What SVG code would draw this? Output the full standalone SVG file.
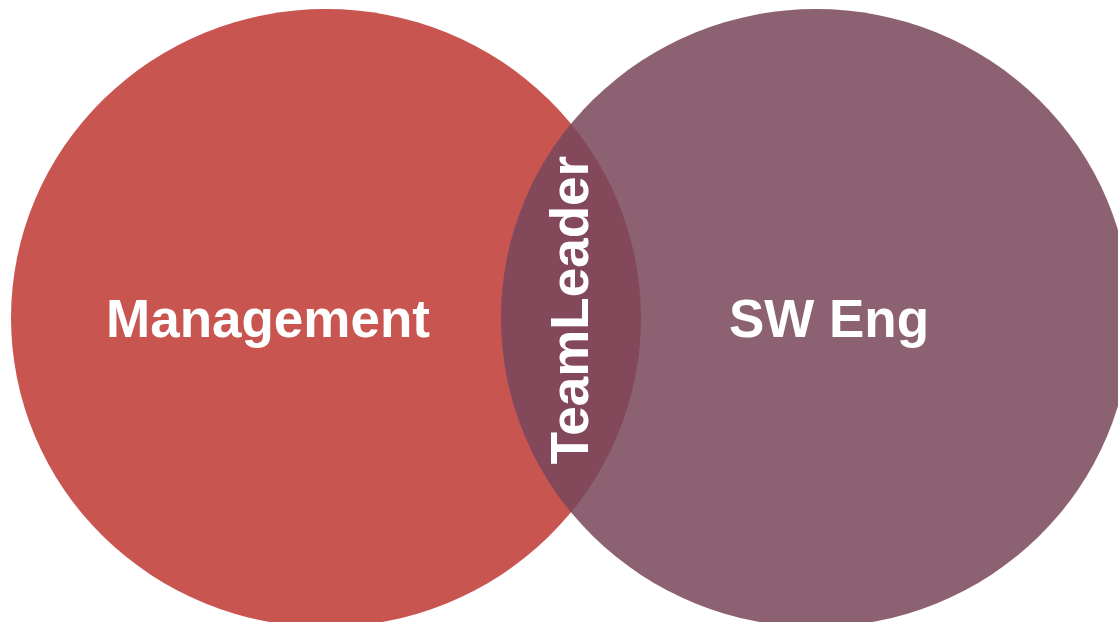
<svg xmlns="http://www.w3.org/2000/svg" width="1118" height="622" viewBox="0 0 1118 622">
<style>
.lbl{font-family:"Liberation Sans",Arial,Helvetica,sans-serif;font-weight:bold;font-size:53px;fill:#ffffff;text-anchor:middle}
</style>
<defs>
<clipPath id="clipL"><ellipse cx="326" cy="318" rx="315" ry="309"/></clipPath>
</defs>
<rect width="1118" height="622" fill="#ffffff"/>
<g id="management">
<ellipse cx="326" cy="318" rx="315" ry="309" fill="#c95550"/>
</g>
<g id="sweng">
<ellipse cx="816" cy="318" rx="315" ry="309" fill="#8c6272"/>
</g>
<g id="teamleader">
<ellipse cx="816" cy="318" rx="315" ry="309" fill="#834859" clip-path="url(#clipL)"/>
</g>
<g id="labels">
<text class="lbl" x="268" y="337">Management</text>
<text class="lbl" x="829" y="337">SW Eng</text>
<text class="lbl" transform="translate(588,310) rotate(-90)" x="0" y="0">TeamLeader</text>
</g>
<g id="connectors"></g>
</svg>
